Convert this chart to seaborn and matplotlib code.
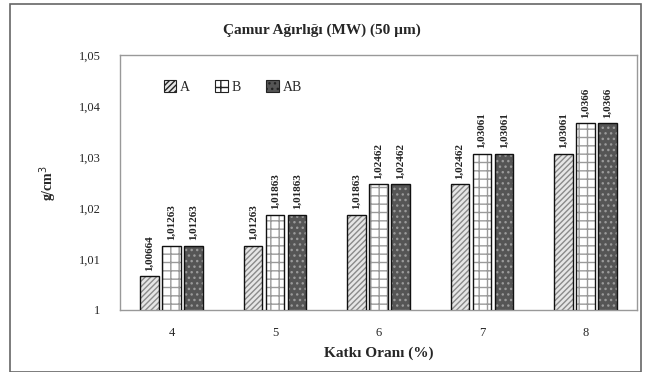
import matplotlib
matplotlib.use("Agg")
import matplotlib.pyplot as plt
import seaborn as sns
import pandas as pd
from matplotlib.patches import Rectangle

categories = ["4", "5", "6", "7", "8"]
series_names = ["A", "B", "AB"]
values_A = [1.00664, 1.01263, 1.01863, 1.02462, 1.03061]
values_B = [1.01263, 1.01863, 1.02462, 1.03061, 1.0366]
values_AB = [1.01263, 1.01863, 1.02462, 1.03061, 1.0366]
yticks = [1.0, 1.01, 1.02, 1.03, 1.04, 1.05]
ytick_labels = ["1", "1,01", "1,02", "1,03", "1,04", "1,05"]

rows = []
for name, vals in zip(series_names, [values_A, values_B, values_AB]):
    for c, v in zip(categories, vals):
        rows.append({"cat": c, "series": name, "val": v})
df = pd.DataFrame(rows)

sns.set_theme(style="white")
plt.rcParams["font.family"] = ["Liberation Serif", "DejaVu Serif"]

fig = plt.figure(figsize=(6.5, 3.72), dpi=100)
ax = fig.add_axes([120/650, 1-310/372, 517/650, 255/372])

styles = {
    "A": dict(face="#e6e6e6", hatch="//////", hcol="#8a8a8a"),
    "B": dict(face="#ffffff", hatch="++", hcol="#9a9a9a"),
    "AB": dict(face="#555555", hatch="...", hcol="#9a9a9a"),
}
palette = {k: v["face"] for k, v in styles.items()}

sns.barplot(data=df, x="cat", y="val", hue="series", order=categories,
            hue_order=series_names, palette=palette, width=0.64, gap=0.16,
            ax=ax, legend=True, saturation=1)

ax.set_ylim(1.0, 1.05)
ax.set_yticks(yticks)
ax.set_yticklabels(ytick_labels, fontsize=9)
ax.tick_params(axis="x", labelsize=9, length=0, pad=12)
ax.tick_params(axis="y", length=0, pad=14)

for cont, name in zip(ax.containers, series_names):
    st = styles[name]
    for p in cont.patches:
        p.set_hatch(st["hatch"])
        p.set_edgecolor(st["hcol"])
        p.set_linewidth(0)
        ax.add_patch(Rectangle((p.get_x(), p.get_y()), p.get_width(), p.get_height(),
                               fill=False, edgecolor="#111111", linewidth=1.0, zorder=3))

for cont, name, vals in zip(ax.containers, series_names, [values_A, values_B, values_AB]):
    labels = [f"{v:.5f}".rstrip("0").replace(".", ",") for v in vals]
    ax.bar_label(cont, labels=labels, rotation=90, padding=4, fontsize=8,
                 fontweight="bold", color="#222222")

for s in ax.spines.values():
    s.set_color("#999999")
    s.set_linewidth(1.0)

ax.set_xlabel("Katkı Oranı (%)", fontsize=11, fontweight="bold", labelpad=6)
ax.set_ylabel("g/cm$^3$", fontsize=10, fontweight="bold", labelpad=14)
fig.text(0.495, 1 - 30/372, "Çamur Ağırlığı (MW) (50 µm)", ha="center", va="center",
         fontsize=11, fontweight="bold")

leg = ax.legend(loc="upper left", bbox_to_anchor=(0.06, 0.95), ncol=3, frameon=False,
                fontsize=10, handlelength=0.9, handleheight=0.9, columnspacing=1.8,
                handletextpad=0.3)
for h, name in zip(leg.legend_handles, series_names):
    h.set_hatch(styles[name]["hatch"])
    h.set_edgecolor("#222222")
    h.set_linewidth(0.8)

fig.patches.append(Rectangle((10/650, 0), 631/650, 1-4/372, transform=fig.transFigure,
                             fill=False, edgecolor="#666666", linewidth=1.2))

fig.savefig("out.png", dpi=100)
